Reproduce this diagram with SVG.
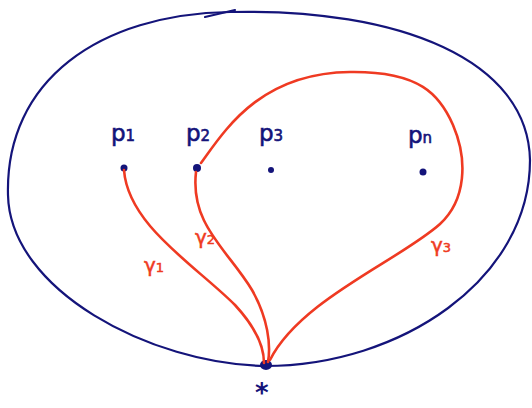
<svg xmlns="http://www.w3.org/2000/svg" width="532" height="408" viewBox="0 0 532 408">
<style>
.nv{fill:none;stroke:#14147a;stroke-width:2.2;stroke-linecap:round}
.rd{fill:none;stroke:#ef3a22;stroke-width:2.6;stroke-linecap:round}
.lbl{font-family:"DejaVu Sans",sans-serif;fill:#14147a;font-size:23px;stroke:#14147a;stroke-width:0.6}
.sub{font-size:15px}
.gl{font-family:"DejaVu Sans",sans-serif;fill:#ef3a22;font-size:20px;stroke:#ef3a22;stroke-width:0.5}
.gs{font-size:13px}
.dot{fill:#14147a}
</style>
<g id="disk">
<path class="nv" d="M230,12 C100,14 5,80 8,195 C10,290 150,364 265,366 C400,366 530,280 530,160 C528,60 400,8 230,12"/>
<path class="nv" d="M205,17 L235,10"/>
</g>
<g id="p1"><circle class="dot" cx="124" cy="168" r="3.5"/><text class="lbl" x="111" y="141">p<tspan class="sub">1</tspan></text></g>
<g id="p2"><circle class="dot" cx="197" cy="168" r="4"/><text class="lbl" x="186" y="141">p<tspan class="sub">2</tspan></text></g>
<g id="p3"><circle class="dot" cx="271" cy="170" r="3"/><text class="lbl" x="259" y="141">p<tspan class="sub">3</tspan></text></g>
<g id="pn"><circle class="dot" cx="423" cy="172" r="3.5"/><text class="lbl" x="408" y="143">p<tspan class="sub">n</tspan></text></g>
<g id="base"><ellipse class="dot" cx="266" cy="365" rx="6" ry="5"/><text x="255" y="402" font-family="DejaVu Sans,sans-serif" font-weight="bold" font-size="26" fill="#14147a">*</text></g>
<g id="connectors">
<path class="rd" d="M124,170 C128,225 195,265 235,305 C258,330 264,350 264,363"/>
<path class="rd" d="M196,172 C190,225 228,250 252,290 C268,318 271,345 268,362"/>
<path class="rd" d="M201,163 C225,130 260,73 350,72 C420,71 440,95 453,125 C468,160 466,200 440,224 C400,260 300,300 270,360"/>
</g>
<g id="labels">
<text class="gl" x="144" y="272">γ<tspan class="gs">1</tspan></text>
<text class="gl" x="195" y="244">γ<tspan class="gs">2</tspan></text>
<text class="gl" x="431" y="252">γ<tspan class="gs">3</tspan></text>
</g>
</svg>
